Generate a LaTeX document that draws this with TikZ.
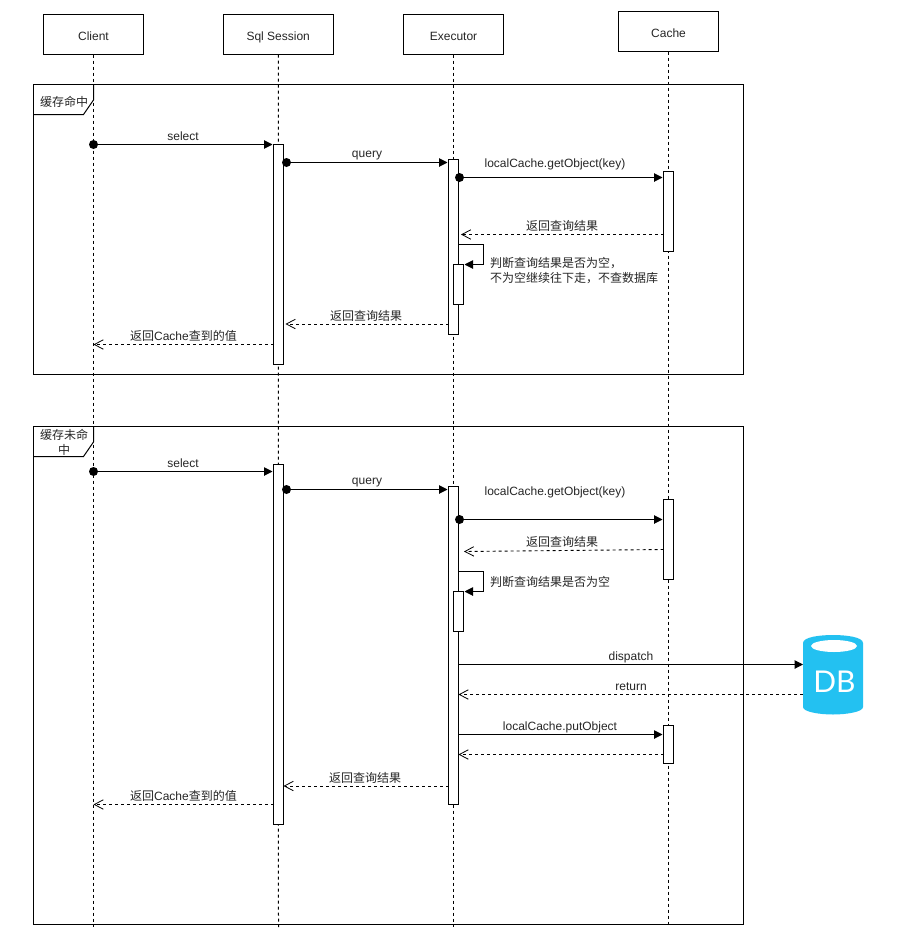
\documentclass[tikz,border=0pt]{standalone}
\usepackage{fontspec}
\setmainfont{Liberation Sans}
\newfontfamily\cjk{Noto Sans CJK SC}
\newfontfamily\dbfont{Lato}
\usetikzlibrary{arrows.meta}
\definecolor{dbblue}{HTML}{23C1F1}
\tikzset{
  every node/.style={font=\fontsize{12}{15}\selectfont,text=black!85},
  head/.style={draw=black,fill=white,line width=1pt,outer sep=0pt,minimum width=100pt,minimum height=40pt,inner sep=0pt,text height=13pt,text depth=2pt},
  life/.style={draw=black,line width=1pt,dash pattern=on 3pt off 3pt},
  frameline/.style={draw=black,line width=1pt},
  actbar/.style={draw=black,fill=white,line width=1pt,outer sep=0pt,minimum width=10pt,inner sep=0pt,anchor=north},
  msg/.style={draw=black,line width=1pt,shorten >=1pt,-{Triangle[length=8.5pt,width=8.5pt]}},
  ret/.style={draw=black,line width=.9pt,dash pattern=on 3pt off 3pt,-{Straight Barb[length=9pt,width=9.5pt,line width=.8pt]}},
  dotn/.style={circle,fill=black,draw=none,minimum size=9pt,inner sep=0pt},
  lbl/.style={inner sep=0pt},
  tablbl/.style={inner sep=0pt,align=center,font=\fontsize{12}{15.5}\selectfont},
}
\begin{document}
\begin{tikzpicture}[x=1pt,y=-1pt]
\useasboundingbox (0,0) rectangle (910,929);
\fill[white] (0,0) rectangle (910,929);

% frames
\draw[frameline] (33.5,84.5) rectangle (743.5,374.5);
\draw[frameline] (33.5,426.5) rectangle (743.5,924.5);
\draw[frameline] (33.5,114.5) -- (83.5,114.5) -- (93.5,100) -- (93.5,84.5);
\draw[frameline] (33.5,456.5) -- (83.5,456.5) -- (93.5,442) -- (93.5,426.5);
\node[tablbl] (tab1) at (64,102) {\cjk 缓存命中};
\node[tablbl] (tab2) at (64,442.5) {\cjk 缓存未命\\[-0.5pt]\cjk 中};

% heads
\node[head] (client) at (93.5,34.5) {Client};
\node[head,minimum width=109.5pt] (sql) at (278.25,34.5) {Sql Session};
\node[head] (exec) at (453.5,34.5) {Executor};
\node[head] (cache) at (668.5,31.5) {Cache};
\coordinate (clientEnd) at (93.5,927);
\coordinate (sqlEnd) at (278.5,927);
\coordinate (execEnd) at (453.5,927);
\coordinate (cacheEnd) at (668.5,927);
\draw[life] (client.south) -- (clientEnd);
\draw[life] (sql.south) -- (sqlEnd);
\draw[life] (exec.south) -- (execEnd);
\draw[life] (cache.south) -- (cacheEnd);

% activation bars, first frame
\node[actbar,minimum height=220pt] (s1) at (278.5,144.5) {};
\node[actbar,minimum height=175pt] (e1) at (453.5,159.5) {};
\node[actbar,minimum height=80pt] (c1) at (668.5,171.5) {};
\node[actbar,minimum height=40pt] (i1) at (458.5,264.5) {};
% activation bars, second frame
\node[actbar,minimum height=360pt] (s2) at (278.5,464.5) {};
\node[actbar,minimum height=318pt] (e2) at (453.5,486.5) {};
\node[actbar,minimum height=80pt] (c2) at (668.5,499.5) {};
\node[actbar,minimum height=40pt] (i2) at (458.5,591.5) {};
\node[actbar,minimum height=38pt] (c3) at (668.5,725.5) {};

% dots
\node[dotn] (d1) at (93.5,144.5) {};
\node[dotn] (d2) at (286.5,162.5) {};
\node[dotn] (d3) at (459.5,177.5) {};
\node[dotn] (d4) at (93.5,471.5) {};
\node[dotn] (d5) at (286.5,489.5) {};
\node[dotn] (d6) at (459.5,519.5) {};

% first frame messages
\draw[msg] (d1.center) -- (s1.north west);
\draw[msg] (d2.center) -- (e1.west |- d2);
\draw[msg] (d3.center) -- (c1.west |- d3);
\coordinate (r1a) at (663.5,234.5); \coordinate (r1b) at (461,234.5);
\draw[ret] (r1a) -- (r1b);
\coordinate (sc1a) at (458.5,244.5); \coordinate (sc1b) at (483.5,244.5); \coordinate (sc1c) at (483.5,264.5);
\draw[msg] (sc1a) -- (sc1b) -- (sc1c) -- (i1.north east);
\coordinate (r2a) at (448.5,324); \coordinate (r2b) at (285.5,324);
\draw[ret] (r2a) -- (r2b);
\coordinate (r3a) at (273.5,344.5); \coordinate (r3b) at (93.5,344.5);
\draw[ret] (r3a) -- (r3b);

% second frame messages
\draw[msg] (d4.center) -- (s2.west |- d4);
\draw[msg] (d5.center) -- (e2.west |- d5);
\draw[msg] (d6.center) -- (c2.west |- d6);
\coordinate (r4a) at (663.5,549.5); \coordinate (r4b) at (464,551.5);
\draw[ret] (r4a) -- (r4b);
\coordinate (sc2a) at (458.5,571.5); \coordinate (sc2b) at (483.5,571.5); \coordinate (sc2c) at (483.5,591.5);
\draw[msg] (sc2a) -- (sc2b) -- (sc2c) -- (i2.north east);

% database
\fill[fill=dbblue] (803,643)
  .. controls (803,637) and (820,635) .. (833,635)
  .. controls (846,635) and (863,637) .. (863,643)
  -- (863,707)
  .. controls (863,712) and (846,714.5) .. (833,714.5)
  .. controls (820,714.5) and (803,712) .. (803,707) -- cycle;
\fill[white] (834,646) ellipse [x radius=23, y radius=6];
\node[lbl,text=white,font=\fontsize{30}{30}\selectfont\dbfont] (db) at (834.5,682) {DB};
\coordinate (dbL1) at (804,664.5);
\coordinate (dbL2) at (803,694.5);
\coordinate (ex1) at (458.5,664.5);
\coordinate (ex2) at (458.5,694.5);
\draw[msg] (ex1) -- (dbL1);
\draw[ret] (dbL2) -- (ex2);
\coordinate (ex3) at (458.5,734.5);
\coordinate (ex4) at (458.5,754.5);
\draw[msg] (ex3) -- (c3.west |- ex3);
\draw[ret] (c3.west |- ex4) -- (ex4);
\coordinate (r5a) at (448.5,786); \coordinate (r5b) at (283.5,786);
\draw[ret] (r5a) -- (r5b);
\coordinate (r6a) at (273.5,804.5); \coordinate (r6b) at (93.5,804.5);
\draw[ret] (r6a) -- (r6b);

% labels
\node[lbl] (l1) at (183,136) {select};
\node[lbl] (l2) at (367,155.5) {query};
\node[lbl] (l3) at (555,164) {localCache.getObject(key)};
\node[lbl] (l4) at (562,226) {\cjk 返回查询结果};
\node[lbl,anchor=north west,align=left,font=\fontsize{12}{15}\selectfont] (l5) at (490,257) {\cjk 判断查询结果是否为空，\\\cjk 不为空继续往下走，不查数据库};
\node[lbl] (l6) at (366,315.5) {\cjk 返回查询结果};
\node[lbl] (l7) at (183.5,336) {\cjk 返回{\rmfamily Cache}查到的值};
\node[lbl] (l8) at (183,463) {select};
\node[lbl] (l9) at (367,482.5) {query};
\node[lbl] (l10) at (555,492) {localCache.getObject(key)};
\node[lbl] (l11) at (562,541.5) {\cjk 返回查询结果};
\node[lbl,anchor=west] (l12) at (490,582) {\cjk 判断查询结果是否为空};
\node[lbl] (l13) at (631,657) {dispatch};
\node[lbl] (l14) at (631,687) {return};
\node[lbl] (l15) at (560,727) {localCache.putObject};
\node[lbl] (l16) at (365,777.5) {\cjk 返回查询结果};
\node[lbl] (l17) at (183.5,795.5) {\cjk 返回{\rmfamily Cache}查到的值};
\end{tikzpicture}
\end{document}
